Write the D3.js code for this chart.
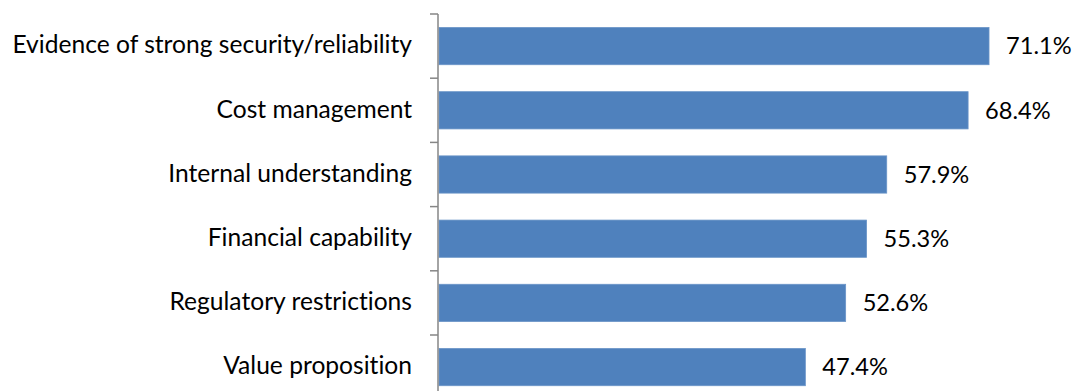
<!DOCTYPE html>
<html>
<head>
<meta charset="utf-8">
<script src="https://cdn.jsdelivr.net/npm/d3@7"></script>
<style>
  html, body { margin: 0; padding: 0; background: #fff; }
  svg { display: block; }
  text { font-family: Lato, "Open Sans", sans-serif; fill: #000; font-variant-ligatures: none; font-feature-settings: "liga" 0, "clig" 0; }
</style>
</head>
<body>
<svg id="chart" width="1081" height="391"></svg>
<script>
// Barriers to adoption, share of respondents (%)
const categories = [
  "Evidence of strong security/reliability",
  "Cost management",
  "Internal understanding",
  "Financial capability",
  "Regulatory restrictions",
  "Value proposition"
];
const values = [71.1, 68.4, 57.9, 55.3, 52.6, 47.4];

const svg = d3.select("#chart");
const margin = { top: 14, left: 438 };
const bandH = 64.2;
const innerH = bandH * categories.length;

const x = d3.scaleLinear().domain([0, 100]).range([margin.left, margin.left + 775]);
const y = d3.scaleBand().domain(categories).range([margin.top, margin.top + innerH])
  .paddingInner(0.42).paddingOuter(0.21);

// bars
svg.append("g").selectAll("rect")
  .data(categories)
  .join("rect")
  .attr("x", x(0) + 1)
  .attr("y", d => y(d))
  .attr("width", (d, i) => x(values[i]) - x(0) - 1)
  .attr("height", y.bandwidth())
  .attr("fill", "#4F81BD")
  .attr("stroke", "#6a95c8")
  .attr("stroke-width", 0.8);

// value labels
svg.append("g").selectAll("text")
  .data(categories)
  .join("text")
  .attr("x", (d, i) => x(values[i]) + 17)
  .attr("y", d => y(d) + y.bandwidth() / 2)
  .attr("dy", "0.35em")
  .style("font-size", "23.6px")
  .text((d, i) => values[i].toFixed(1) + "%");

// category axis with tick marks at band boundaries
const axisG = svg.append("g");
axisG.append("line")
  .attr("x1", margin.left).attr("x2", margin.left)
  .attr("y1", margin.top).attr("y2", margin.top + innerH)
  .attr("stroke", "#868686").attr("stroke-width", 1.5);
const boundaries = d3.range(categories.length + 1).map(i => margin.top + i * bandH);
axisG.selectAll("line.tick")
  .data(boundaries)
  .join("line")
  .attr("class", "tick")
  .attr("x1", margin.left - 8).attr("x2", margin.left)
  .attr("y1", d => d).attr("y2", d => d)
  .attr("stroke", "#868686").attr("stroke-width", 1.5);

axisG.selectAll("text")
  .data(categories)
  .join("text")
  .attr("x", 412)
  .attr("y", d => y(d) + y.bandwidth() / 2)
  .attr("dy", "0.3em")
  .attr("text-anchor", "end")
  .style("font-size", "24.6px")
  .text(d => d);
</script>
</body>
</html>
